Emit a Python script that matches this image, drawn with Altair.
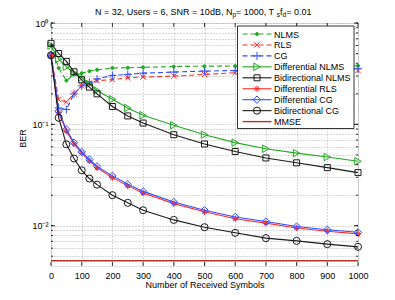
import altair as alt
import pandas as pd

# ---------------- data ----------------
x_symbols = [0, 25, 50, 75, 100, 125, 150, 200, 250, 300, 400, 500, 600, 700, 800, 900, 1000]

ber_nlms = [0.60, 0.36, 0.27, 0.31, 0.32, 0.335, 0.345, 0.36, 0.362, 0.365, 0.372, 0.375, 0.376, 0.377, 0.377, 0.377, 0.378]
ber_rls = [0.48, 0.175, 0.166, 0.20, 0.24, 0.255, 0.27, 0.276, 0.288, 0.293, 0.299, 0.311, 0.323, 0.33, 0.334, 0.337, 0.34]
ber_cg = [0.48, 0.145, 0.14, 0.20, 0.24, 0.26, 0.28, 0.304, 0.311, 0.32, 0.328, 0.335, 0.34, 0.345, 0.348, 0.351, 0.353]
ber_diff_nlms = [0.60, 0.44, 0.37, 0.32, 0.29, 0.25, 0.216, 0.177, 0.145, 0.123, 0.098, 0.079, 0.066, 0.0575, 0.052, 0.0476, 0.0432]
ber_bidir_nlms = [0.63, 0.50, 0.418, 0.33, 0.275, 0.233, 0.200, 0.150, 0.121, 0.103, 0.079, 0.064, 0.054, 0.0466, 0.0417, 0.0374, 0.0334]
ber_diff_rls = [0.47, 0.13, 0.086, 0.064, 0.052, 0.0435, 0.0373, 0.0298, 0.0247, 0.021, 0.0165, 0.0137, 0.0117, 0.0106, 0.0095, 0.0088, 0.0083]
ber_diff_cg = [0.48, 0.135, 0.089, 0.066, 0.0535, 0.045, 0.0385, 0.031, 0.0256, 0.0218, 0.0171, 0.0142, 0.0122, 0.0110, 0.0098, 0.0091, 0.0086]
ber_bidir_cg = [0.48, 0.116, 0.0635, 0.046, 0.0352, 0.0292, 0.0254, 0.020, 0.0168, 0.0142, 0.0114, 0.00966, 0.0085, 0.00753, 0.00708, 0.00657, 0.00618]
x_mmse = [0, 1000]
ber_mmse = [0.0045, 0.0045]

series_names = ["NLMS", "RLS", "CG", "Differential NLMS", "Bidirectional NLMS",
                "Differential RLS", "Differential CG", "Bidirectional CG", "MMSE"]
series_x = [x_symbols] * 8 + [x_mmse]
series_y = [ber_nlms, ber_rls, ber_cg, ber_diff_nlms, ber_bidir_nlms,
            ber_diff_rls, ber_diff_cg, ber_bidir_cg, ber_mmse]

x_ticks = [0, 100, 200, 300, 400, 500, 600, 700, 800, 900, 1000]
y_major = [0.01, 0.1, 1]
y_grid = [0.005, 0.006, 0.007, 0.008, 0.009,
          0.01, 0.02, 0.03, 0.04, 0.05, 0.06, 0.07, 0.08, 0.09,
          0.1, 0.2, 0.3, 0.4, 0.5, 0.6, 0.7, 0.8, 0.9, 1]

# ---------------- styles ----------------
GREEN = "#22aa22"
RED = "#ff2a2a"
BLUE = "#2f4dff"
BLACK = "#1a1a1a"
MMSE_C = "#b5332a"
PLUS = "M-1,0L1,0M0,-1L0,1"
XSHAPE = "M-0.8,-0.8L0.8,0.8M-0.8,0.8L0.8,-0.8"
STAR = "M-1,0L1,0M0,-1L0,1M-0.7,-0.7L0.7,0.7M-0.7,0.7L0.7,-0.7"
DASH = [5, 3]
styles = [
    dict(color=GREEN, dash=DASH, shape="circle", size=9, filled=True),
    dict(color=RED, dash=DASH, shape=XSHAPE, size=45, filled=False),
    dict(color=BLUE, dash=DASH, shape=PLUS, size=64, filled=False),
    dict(color=GREEN, dash=None, shape="triangle-right", size=55, filled=False),
    dict(color=BLACK, dash=None, shape="square", size=36, filled=False),
    dict(color=RED, dash=None, shape=STAR, size=40, filled=False),
    dict(color=BLUE, dash=None, shape="diamond", size=55, filled=False),
    dict(color=BLACK, dash=None, shape="circle", size=50, filled=False),
    dict(color=MMSE_C, dash=None, shape=None, size=0, filled=False),
]

W, H = 307, 243
FONT = "Liberation Sans"

xscale = alt.Scale(domain=[0, 1000], nice=False, zero=False)
yscale = alt.Scale(type="log", domain=[0.004, 1], nice=False)

label_expr = ("datum.value == 1 ? '10⁰' : datum.value == 0.1 ? '10⁻¹' : "
              "datum.value == 0.01 ? '10⁻²' : ''")

xaxis = alt.Axis(values=x_ticks, format="d", grid=True, gridDash=[1, 2], gridColor="#9a9a9a",
                 gridWidth=0.8, ticks=False, tickSize=0, domain=False,
                 labelFont=FONT, labelFontSize=9, labelColor="#000", labelPadding=5,
                 title="Number of Received Symbols", titleFont=FONT, titleFontSize=9,
                 titleFontWeight="normal", titleColor="#000", titleX=W / 2, titleY=21,
                 titleBaseline="alphabetic", titleAlign="center", labelFlush=False)
yaxis = alt.Axis(values=y_grid, grid=True, gridDash=[1, 2], gridColor="#9a9a9a",
                 gridWidth=0.8, ticks=False, tickSize=0, domain=False,
                 labelExpr=label_expr, labelFont=FONT, labelFontSize=9,
                 labelColor="#000", labelPadding=3, labelOverlap=False,
                 title="BER", titleFont=FONT, titleFontSize=9, titleFontWeight="normal",
                 titleColor="#000", titleX=-24, titleY=115, titleAngle=-90,
                 titleBaseline="bottom", titleAlign="center", labelFlush=False)

layers = []
for name, xs, ys, st in zip(series_names, series_x, series_y, styles):
    df = pd.DataFrame({"x": xs, "ber": ys})
    enc = dict(x=alt.X("x:Q", scale=xscale, axis=xaxis),
               y=alt.Y("ber:Q", scale=yscale, axis=yaxis))
    lkw = dict(color=st["color"], strokeWidth=1.1 if name != "MMSE" else 1.4)
    if st["dash"]:
        lkw["strokeDash"] = st["dash"]
    layers.append(alt.Chart(df).mark_line(**lkw).encode(**enc))
    if st["shape"]:
        pkw = dict(shape=st["shape"], size=st["size"], filled=st["filled"],
                   strokeWidth=1.0, opacity=1)
        if st["filled"]:
            pkw["fill"] = st["color"]
        pkw["stroke"] = st["color"]
        layers.append(alt.Chart(df).mark_point(**pkw).encode(**enc))

# ---------------- inward ticks (MATLAB box style) ----------------
xt = pd.DataFrame({"x": x_ticks})
ymaj = pd.DataFrame({"ber": y_major})
ymin = pd.DataFrame({"ber": y_grid})
tick_kw = dict(color="#000", strokeWidth=0.8)
layers.append(alt.Chart(xt).mark_rule(**tick_kw).encode(
    x=alt.X("x:Q", scale=xscale, axis=xaxis), y=alt.value(H), y2=alt.value(H - 4)))
layers.append(alt.Chart(xt).mark_rule(**tick_kw).encode(
    x=alt.X("x:Q", scale=xscale, axis=xaxis), y=alt.value(0), y2=alt.value(4)))
for df_t, ln in ((ymaj, 4), (ymin, 2)):
    layers.append(alt.Chart(df_t).mark_rule(**tick_kw).encode(
        y=alt.Y("ber:Q", scale=yscale, axis=yaxis), x=alt.value(0), x2=alt.value(ln)))
    layers.append(alt.Chart(df_t).mark_rule(**tick_kw).encode(
        y=alt.Y("ber:Q", scale=yscale, axis=yaxis), x=alt.value(W), x2=alt.value(W - ln)))

one = pd.DataFrame({"a": [0]})

# ---------------- legend (drawn manually, MATLAB style) ----------------
LX0, LX1, LY0, LY1 = 186.5, 303, 3, 105.5
ROW0, ROWSTEP = 11, 10.95
SEG0, SEG1, TXT = 191.5, 220.5, 223
layers.append(alt.Chart(one).mark_rect(fill="white", stroke="#000", strokeWidth=0.8).encode(
    x=alt.value(LX0), x2=alt.value(LX1), y=alt.value(LY0), y2=alt.value(LY1)))
for i, (name, st) in enumerate(zip(series_names, styles)):
    yy = ROW0 + i * ROWSTEP
    rkw = dict(color=st["color"], strokeWidth=1.1 if name != "MMSE" else 1.4)
    if st["dash"]:
        rkw["strokeDash"] = st["dash"]
    layers.append(alt.Chart(one).mark_rule(**rkw).encode(
        x=alt.value(SEG0), x2=alt.value(SEG1), y=alt.value(yy)))
    if st["shape"]:
        pkw = dict(shape=st["shape"], size=st["size"], filled=st["filled"], strokeWidth=1.0, opacity=1)
        if st["filled"]:
            pkw["fill"] = st["color"]
        pkw["stroke"] = st["color"]
        layers.append(alt.Chart(one).mark_point(**pkw).encode(
            x=alt.value((SEG0 + SEG1) / 2), y=alt.value(yy)))
    layers.append(alt.Chart(one).mark_text(align="left", baseline="middle", font=FONT,
                                           fontSize=9, color="#000").encode(
        x=alt.value(TXT), y=alt.value(yy + 0.5), text=alt.value(name)))

# ---------------- title with sub-scripts ----------------
ARIAL = {" ": 278, ",": 278, "=": 584, ".": 278, "0": 556, "1": 556, "2": 556, "3": 556,
         "6": 556, "N": 722, "U": 722, "s": 500, "e": 556, "r": 333, "S": 667, "R": 722,
         "d": 556, "B": 667, "T": 611, "f": 278, "p": 556}


def text_w(s, size):
    return sum(ARIAL.get(c, 556) for c in s) * size / 1000.0


title_parts = [("N = 32, Users = 6, SNR = 10dB, N", False), ("p", True),
               (" = 1000, T", False), ("s", True), ("f", False), ("d", True),
               (" = 0.01", False)]
TS, SS = 9, 6.5
total = sum(text_w(t, SS if sub else TS) for t, sub in title_parts)
cx = W / 2 - total / 2
TY = -8
for t, sub in title_parts:
    fs = SS if sub else TS
    layers.append(alt.Chart(one).mark_text(align="left", baseline="alphabetic", font=FONT,
                                           fontSize=fs, color="#000").encode(
        x=alt.value(cx), y=alt.value(TY + (2.3 if sub else 0)), text=alt.value(t)))
    cx += text_w(t, fs)

chart = alt.layer(*layers).properties(
    width=W, height=H,
    padding={"left": 43, "top": 15, "right": 28, "bottom": 25},
    autosize=alt.AutoSizeParams(type="none"),
).configure_view(stroke="#000", strokeWidth=1).configure(background="white")

chart.save("out.html", embed_options={"renderer": "svg", "actions": False})
